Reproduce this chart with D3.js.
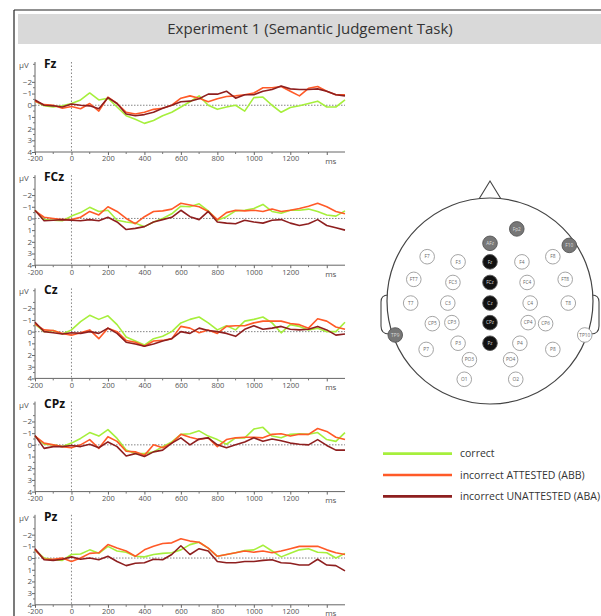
<!DOCTYPE html>
<html>
<head>
<meta charset="utf-8">
<script src="https://cdn.jsdelivr.net/npm/d3@7"></script>
<style>
  body { margin: 0; background: #fff; }
  text { font-family: "Open Sans", "Noto Sans", sans-serif; }
</style>
</head>
<body>
<script>
// time points (ms), 50 ms steps
var times = d3.range(-200, 1501, 50);
var channels = ["Fz", "FCz", "Cz", "CPz", "Pz"];
var conditions = ["correct", "incorrect ATTESTED (ABB)", "incorrect UNATTESTED (ABA)"];
var colors = ["#a6ef3c", "#ff5a28", "#8e1f1f"];
var yTicks = [-2, -1, 0, 1, 2, 3, 4];
var xTicks = [-200, 0, 200, 400, 600, 800, 1000, 1200];

// amplitudes in µV (negative up), one array per channel and condition
var fzCorrect = [-0.35,0.05,0.15,0.05,-0.15,-0.45,-1.05,-0.45,-0.6,0.15,0.9,1.2,1.55,1.3,0.9,0.6,0.15,-0.3,-0.8,0,0.35,0.15,0,0.5,-0.65,-0.7,0,0.6,0.2,0.05,-0.15,-0.35,0.15,0.15,-0.45];
var fzAttested = [-0.35,-0.05,0,0.25,0.1,0.3,-0.15,0.5,-0.7,-0.15,0.6,0.75,0.6,0.35,0.25,0,-0.6,-0.8,-0.6,-0.3,-0.55,-0.75,-0.8,-0.9,-1.05,-1.5,-1.5,-1.6,-1.2,-0.8,-1.45,-1.6,-1.2,-0.9,-0.9];
var fzUnattested = [-0.45,0,0.05,0.15,-0.1,0,0.05,0.3,-0.65,-0.15,0.75,0.9,0.8,0.6,0.25,0,-0.3,-0.35,-0.55,-0.95,-0.95,-1.2,-0.6,-0.9,-0.9,-1.2,-1.35,-1.65,-1.4,-1.35,-1.35,-1.4,-1.2,-0.9,-0.8];

var fczCorrect = [-0.7,0.1,0.15,0.2,-0.2,-0.5,-0.95,-0.6,-0.7,0.15,0.3,0.4,0.7,0.3,0,-0.4,-1.05,-1.0,-1.25,-0.65,0.15,-0.15,-0.65,-0.7,-0.85,-1.2,-0.6,-0.45,-0.7,-0.7,-0.8,-0.6,-0.3,-0.2,-0.65];
var fczAttested = [-0.65,-0.1,0,0.1,0.1,-0.1,-0.6,-0.3,-1.0,-0.6,0,0.45,-0.15,-0.6,-0.65,-0.8,-1.3,-1.15,-1.0,-0.6,0.1,-0.5,-0.7,-0.65,-0.7,-0.6,-0.8,-0.6,-0.7,-0.85,-1.05,-1.3,-1.0,-0.6,-0.4];
var fczUnattested = [-0.7,0.2,0.15,0.1,0.15,0.2,0.1,0.2,-0.1,0.3,0.95,0.85,0.7,0.3,0.1,-0.1,-0.7,-0.15,0.1,-0.6,0.3,0.4,0.45,0.15,0.3,0.4,0.15,0.1,0.4,0.6,0.45,0.1,0.6,0.8,1.0];

var czCorrect = [-0.65,0,-0.1,0.2,-0.15,-0.85,-1.4,-1.05,-1.35,-0.6,0.45,0.8,1.15,0.6,0.4,0,-0.75,-1.05,-1.25,-0.75,-0.15,-0.5,-0.15,-0.9,-1.05,-1.25,-0.75,0.1,-0.6,-0.45,-0.15,-0.3,0,0,-0.8];
var czAttested = [-0.65,-0.15,-0.1,0.15,0.3,0.1,-0.15,0.6,-0.3,0,0.75,0.9,1.25,0.8,0.75,0.6,-0.45,-0.3,0.1,-0.15,0.15,-0.45,-0.5,-0.5,-0.75,-0.9,-0.9,-0.9,-0.7,-0.6,-0.3,-1.1,-0.9,-0.4,-0.2];
var czUnattested = [-0.8,0,0.1,0.2,0.1,0.15,0,0.15,-0.3,0.15,0.9,1.05,1.25,1.05,0.8,0.6,0,0.15,-0.3,-0.1,0,0.15,0.4,-0.2,-0.5,-0.2,-0.3,-0.45,-0.2,-0.15,-0.2,-0.45,-0.15,0.3,0.2];

var cpzCorrect = [-0.75,-0.05,0,0.15,-0.15,-0.55,-1.05,-0.75,-1.3,-0.55,0.45,0.75,0.75,0.6,0.15,-0.25,-0.9,-0.95,-1.2,-0.75,-0.45,-0.05,-0.6,-0.6,-1.35,-1.5,-0.75,-0.6,-0.9,-0.95,-0.9,-1.05,-0.45,-0.3,-1.05];
var cpzAttested = [-0.75,-0.15,0,0.15,0.25,0,-0.45,0.3,-0.7,-0.3,0.55,0.6,0.9,0,0.25,-0.15,-0.9,-0.65,-0.45,-0.6,0.15,-0.45,-0.6,-0.65,-0.65,-0.6,-0.9,-0.95,-0.75,-0.9,-0.9,-1.4,-1.15,-0.65,-0.45];
var cpzUnattested = [-0.8,0.3,0.15,0.15,0.05,0.15,-0.05,0.25,-0.25,0.15,0.95,0.75,1.0,0.6,0.45,-0.15,-0.6,0,-0.5,-0.6,0,0.25,0,-0.25,-0.6,-0.3,-0.5,-0.35,-0.15,-0.05,0,-0.45,0.05,0.45,0.45];

var pzCorrect = [-0.7,0,0.15,0.2,-0.3,-0.35,-0.7,-0.4,-1.0,-0.6,-0.5,-0.15,-0.1,-0.3,-0.4,-0.45,-0.7,-1.15,-1.35,-0.85,-0.15,-0.3,-0.45,-0.65,-0.7,-1.1,-0.6,-0.1,-0.4,-0.7,-0.8,-0.5,-0.45,0,-0.4];
var pzAttested = [-0.7,0.1,0.1,0,0.3,0,-0.4,-0.45,-1.15,-0.85,-0.6,-0.15,-0.7,-1.0,-1.25,-1.3,-1.65,-1.45,-1.35,-0.85,-0.15,-0.3,-0.45,-0.6,-0.5,-0.6,-0.45,-0.6,-0.8,-1.0,-1.0,-1.0,-0.7,-0.45,-0.3];
var pzUnattested = [-0.8,0.15,0.2,0.1,-0.1,0.1,0,0.15,-0.15,0.3,0.65,0.45,0.4,0.1,0.15,-0.3,-1.05,-0.3,-0.8,-0.6,0.3,0.4,0.4,0.3,0.3,0.2,0.15,0.4,0.45,0.6,0.6,0.1,0.6,0.65,1.1];

var waves = [
  [fzCorrect, fzAttested, fzUnattested],
  [fczCorrect, fczAttested, fczUnattested],
  [czCorrect, czAttested, czUnattested],
  [cpzCorrect, cpzAttested, cpzUnattested],
  [pzCorrect, pzAttested, pzUnattested]
];

// electrode map: name, x, y (head coords, centre 0,0, radius 1), kind
var electrodes = [
  ["Fp2",0.26,-0.70,"g"],["AFz",0,-0.56,"g"],["F10",0.77,-0.54,"g"],
  ["F7",-0.61,-0.43,"w"],["F3",-0.31,-0.38,"w"],["Fz",0,-0.38,"b"],["F4",0.31,-0.38,"w"],["F8",0.61,-0.43,"w"],
  ["FT7",-0.74,-0.21,"w"],["FC3",-0.36,-0.18,"w"],["FCz",0,-0.18,"b"],["FC4",0.36,-0.18,"w"],["FT8",0.73,-0.21,"w"],
  ["T7",-0.77,0.02,"w"],["C3",-0.41,0.02,"w"],["Cz",0,0.02,"b"],["C4",0.39,0.02,"w"],["T8",0.76,0.02,"w"],
  ["CP5",-0.56,0.22,"w"],["CP3",-0.37,0.21,"w"],["CPz",0,0.21,"b"],["CP4",0.37,0.21,"w"],["CP6",0.54,0.22,"w"],
  ["TP9",-0.92,0.33,"g"],["TP10",0.92,0.33,"w"],
  ["P7",-0.62,0.47,"w"],["P3",-0.31,0.41,"w"],["Pz",0,0.41,"b"],["P4",0.29,0.41,"w"],["P8",0.61,0.47,"w"],
  ["PO3",-0.2,0.57,"w"],["PO4",0.2,0.57,"w"],
  ["O1",-0.25,0.76,"w"],["O2",0.25,0.76,"w"]
];

var W = 601, H = 616;
var svg = d3.select("body").append("svg").attr("width", W).attr("height", H);

// frame and title band
svg.append("line").attr("x1", 14).attr("y1", 10).attr("x2", W).attr("y2", 10).attr("stroke", "#222").attr("stroke-width", 1.2);
svg.append("line").attr("x1", 14).attr("y1", 10).attr("x2", 14).attr("y2", H).attr("stroke", "#222").attr("stroke-width", 1.2);
svg.append("rect").attr("x", 18).attr("y", 14).attr("width", W - 18).attr("height", 30).attr("fill", "#d9d9d9");
svg.append("text").attr("x", 310).attr("y", 34).attr("text-anchor", "middle")
  .attr("font-size", 15).attr("fill", "#333").text("Experiment 1 (Semantic Judgement Task)");

var x = d3.scaleLinear().domain([-200, 1500]).range([35, 345]);
var panelTop = 62, panelStep = 113.2, panelH = 90;

channels.forEach(function(ch, i) {
  var g = svg.append("g").attr("transform", "translate(0," + (panelTop + i * panelStep) + ")");
  var y = d3.scaleLinear().domain([-3.7, 4]).range([0, panelH]);

  // zero line and stimulus onset
  g.append("line").attr("x1", x(-200)).attr("x2", x(1500)).attr("y1", y(0)).attr("y2", y(0))
    .attr("stroke", "#777").attr("stroke-width", 0.9).attr("stroke-dasharray", "1.5,1.5");
  g.append("line").attr("x1", x(0)).attr("x2", x(0)).attr("y1", 0).attr("y2", panelH)
    .attr("stroke", "#777").attr("stroke-width", 0.9).attr("stroke-dasharray", "1.5,2");

  // y axis
  var yAxis = d3.axisLeft(y).tickValues(yTicks).tickSize(3).tickFormat(d3.format("d"));
  var ya = g.append("g").attr("transform", "translate(" + x(-200) + ",0)").call(yAxis);
  ya.select(".domain").attr("stroke", "#666").attr("d", "M0,0V" + panelH);
  ya.selectAll(".tick line").attr("stroke", "#666");
  ya.selectAll(".tick text").attr("font-size", 8).attr("fill", "#555").attr("x", -3).attr("dy", "0.3em")
    .attr("font-family", "Liberation Sans, sans-serif");
  g.append("g").selectAll("line").data(d3.range(-3.5, 4, 1)).join("line")
    .attr("x1", x(-200) - 2).attr("x2", x(-200)).attr("y1", function(d) { return y(d); }).attr("y2", function(d) { return y(d); })
    .attr("stroke", "#777");
  g.append("text").attr("x", 19).attr("y", 6).attr("font-size", 8).attr("fill", "#555")
    .attr("font-family", "Liberation Sans, sans-serif").text("µV");

  // x axis
  var xAxis = d3.axisBottom(x).tickValues(xTicks.concat([1400])).tickSize(3)
    .tickFormat(function(d) { return d === 1400 ? "" : d; });
  var xa = g.append("g").attr("transform", "translate(0," + panelH + ")").call(xAxis);
  xa.select(".domain").attr("stroke", "#666").attr("d", "M" + x(-200) + ",0H" + x(1500));
  xa.selectAll(".tick line").attr("stroke", "#666");
  xa.selectAll(".tick text").attr("font-size", 7.5).attr("fill", "#555").attr("y", 4)
    .attr("font-family", "Liberation Sans, sans-serif");
  g.append("g").selectAll("line").data(d3.range(-100, 1500, 200)).join("line")
    .attr("x1", function(d) { return x(d); }).attr("x2", function(d) { return x(d); })
    .attr("y1", panelH).attr("y2", panelH + 2).attr("stroke", "#777");
  g.append("text").attr("x", x(1400) + 4).attr("y", panelH + 11.5).attr("text-anchor", "middle")
    .attr("font-size", 8).attr("fill", "#555").attr("font-family", "Liberation Sans, sans-serif").text("ms");

  // channel label
  g.append("text").attr("x", 44).attr("y", 6).attr("font-size", 12).attr("font-weight", "bold")
    .attr("fill", "#111").text(ch);

  // waveforms
  var line = d3.line().x(function(d, k) { return x(times[k]); }).y(function(d) { return y(d); });
  g.selectAll(".wave").data(waves[i]).join("path").attr("class", "wave")
    .attr("d", function(d) { return line(d); })
    .attr("fill", "none").attr("stroke", function(d, k) { return colors[k]; })
    .attr("stroke-width", 1.6).attr("stroke-linejoin", "round");
});

// head map
var cx = 490, cy = 301, R = 103;
var hx = d3.scaleLinear().domain([-1, 1]).range([cx - R, cx + R]);
var hy = d3.scaleLinear().domain([-1, 1]).range([cy - R, cy + R]);
var head = svg.append("g");
head.append("path").attr("d", "M" + (cx - 11) + "," + (cy - R + 1) + "L" + cx + "," + (cy - R - 17) + "L" + (cx + 11) + "," + (cy - R + 1))
  .attr("fill", "none").attr("stroke", "#444").attr("stroke-width", 1.1);
head.append("path").attr("d", "M" + (cx - R + 1) + ",295 Q" + (cx - R - 6) + ",295 " + (cx - R - 6) + ",302 L" + (cx - R - 6) + ",326 Q" + (cx - R - 6) + ",334 " + (cx - R + 2) + ",334")
  .attr("fill", "none").attr("stroke", "#444").attr("stroke-width", 1.1);
head.append("path").attr("d", "M" + (cx + R - 1) + ",295 Q" + (cx + R + 6) + ",295 " + (cx + R + 6) + ",302 L" + (cx + R + 6) + ",326 Q" + (cx + R + 6) + ",334 " + (cx + R - 2) + ",334")
  .attr("fill", "none").attr("stroke", "#444").attr("stroke-width", 1.1);
head.append("circle").attr("cx", cx).attr("cy", cy).attr("r", R).attr("fill", "#fff").attr("stroke", "#444").attr("stroke-width", 1.2);

var el = head.selectAll(".el").data(electrodes).join("g").attr("class", "el")
  .attr("transform", function(d) { return "translate(" + hx(d[1]) + "," + hy(d[2]) + ")"; });
el.append("circle").attr("r", 7.3)
  .attr("fill", function(d) { return d[3] === "b" ? "#111" : d[3] === "g" ? "#777" : "#fff"; })
  .attr("stroke", function(d) { return d[3] === "w" ? "#9a9a9a" : "#555"; }).attr("stroke-width", 0.9);
el.append("text").attr("text-anchor", "middle").attr("dy", "0.35em").attr("font-size", 4.8)
  .attr("fill", function(d) { return d[3] === "w" ? "#666" : "#ddd"; }).text(function(d) { return d[0]; });

// legend
var legendY = d3.scaleBand().domain(conditions).range([443, 507]);
var leg = svg.selectAll(".leg").data(conditions).join("g").attr("class", "leg")
  .attr("transform", function(d) { return "translate(0," + (legendY(d) + legendY.bandwidth() / 2) + ")"; });
leg.append("line").attr("x1", 383).attr("x2", 452).attr("stroke", function(d, k) { return colors[k]; }).attr("stroke-width", 2.6);
leg.append("text").attr("x", 460).attr("dy", "0.35em").attr("font-size", 10.5).attr("fill", "#333").text(function(d) { return d; });
</script>
</body>
</html>
